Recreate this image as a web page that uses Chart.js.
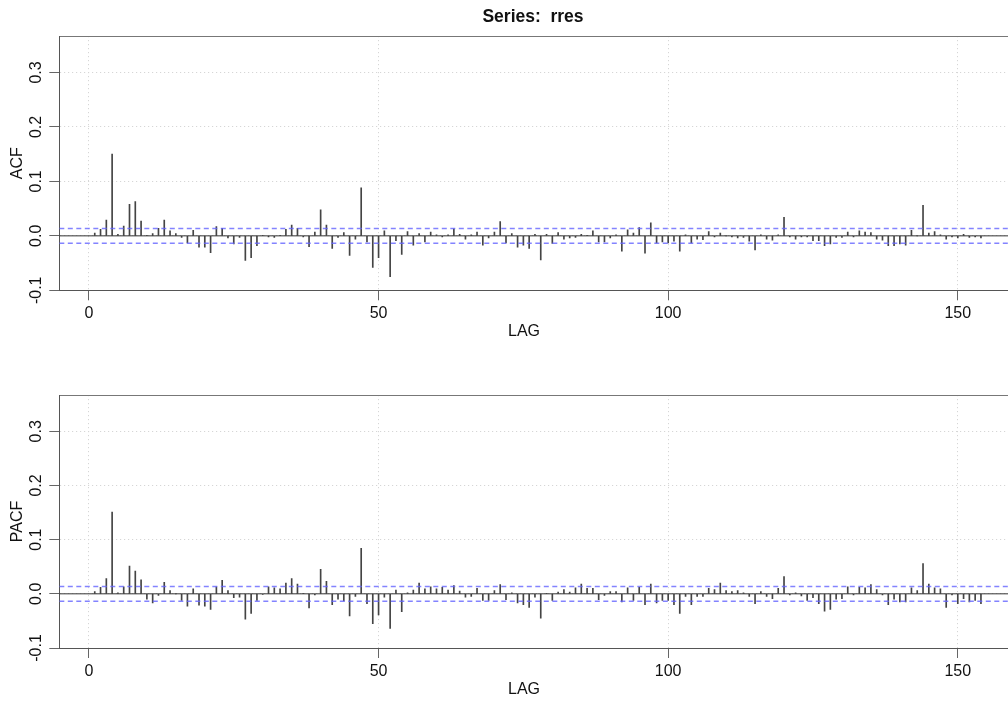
<!DOCTYPE html>
<html>
<head>
<meta charset="utf-8">
<script src="https://cdn.jsdelivr.net/npm/chart.js@4.4.1/dist/chart.umd.min.js"></script>
<style>
  html, body { margin: 0; padding: 0; background: #fff; overflow: hidden; }
  #wrap { position: relative; width: 1008px; height: 704px; overflow: hidden; }
  canvas { position: absolute; left: 0; }
  #acfChart { top: 0; }
  #pacfChart { top: 352px; }
</style>
</head>
<body>
<div id="wrap">
  <canvas id="acfChart" width="1040" height="352"></canvas>
  <canvas id="pacfChart" width="1040" height="352"></canvas>
</div>
<script>
// --- Data (lags 1..154) ---
const acfValues = [
  0.005, 0.012, 0.029, 0.150, 0.003, 0.018, 0.058, 0.063, 0.027, 0.001,
  0.004, 0.014, 0.029, 0.009, 0.004, -0.003, -0.013, 0.010, -0.021, -0.021,
  -0.031, 0.017, 0.014, -0.004, -0.015, -0.003, -0.045, -0.040, -0.018, 0.001,
  -0.002, -0.003, 0.001, 0.012, 0.020, 0.014, -0.002, -0.020, 0.007, 0.048,
  0.020, -0.023, -0.003, 0.006, -0.036, -0.006, 0.088, -0.011, -0.058, -0.040,
  0.009, -0.075, -0.009, -0.034, 0.008, -0.017, 0.004, -0.011, 0.007, 0.002,
  -0.002, 0.002, 0.013, 0.003, -0.006, 0.002, 0.007, -0.017, -0.004, 0.007,
  0.026, -0.013, 0.004, -0.021, -0.017, -0.023, 0.003, -0.044, 0.003, -0.014,
  0.006, -0.006, -0.004, -0.003, 0.003, 0.001, 0.009, -0.011, -0.011, -0.004,
  0.002, -0.028, 0.011, 0.005, 0.015, -0.032, 0.024, -0.013, -0.011, -0.013,
  -0.010, -0.028, 0.002, -0.013, -0.006, -0.007, 0.008, -0.002, 0.005, 0.000,
  -0.002, -0.004, -0.003, -0.010, -0.026, 0.002, -0.006, -0.008, 0.002, 0.034,
  -0.002, -0.006, -0.002, -0.002, -0.009, -0.009, -0.018, -0.015, -0.003, -0.003,
  0.007, -0.002, 0.009, 0.007, 0.006, -0.006, -0.008, -0.018, -0.018, -0.015,
  -0.017, 0.010, 0.000, 0.056, 0.005, 0.008, 0.002, -0.006, -0.002, -0.004,
  0.003, -0.003, -0.002, -0.004
];

const pacfValues = [
  0.004, 0.012, 0.028, 0.151, 0.002, 0.013, 0.051, 0.042, 0.026, -0.010,
  -0.017, -0.003, 0.021, 0.006, 0.000, -0.012, -0.023, 0.009, -0.021, -0.023,
  -0.029, 0.013, 0.025, 0.006, -0.007, -0.006, -0.047, -0.036, -0.012, -0.001,
  0.013, 0.011, 0.009, 0.020, 0.028, 0.018, 0.001, -0.026, -0.002, 0.045,
  0.023, -0.020, -0.010, -0.013, -0.041, -0.005, 0.084, -0.018, -0.055, -0.039,
  -0.006, -0.064, 0.007, -0.033, 0.002, 0.007, 0.020, 0.009, 0.013, 0.009,
  0.012, 0.007, 0.015, 0.005, -0.006, -0.005, 0.010, -0.012, -0.012, 0.006,
  0.017, -0.011, 0.002, -0.017, -0.020, -0.025, -0.006, -0.045, 0.001, -0.012,
  0.003, 0.008, 0.003, 0.011, 0.018, 0.010, 0.010, -0.011, -0.003, 0.004,
  0.004, -0.015, 0.011, -0.012, 0.012, -0.020, 0.018, -0.017, -0.012, -0.012,
  -0.020, -0.036, -0.005, -0.020, -0.005, -0.005, 0.010, 0.008, 0.020, 0.006,
  0.004, 0.006, 0.002, -0.005, -0.018, 0.004, -0.005, -0.009, 0.010, 0.032,
  -0.002, 0.002, -0.004, -0.012, -0.007, -0.018, -0.032, -0.029, -0.010, -0.009,
  0.013, -0.002, 0.012, 0.011, 0.017, 0.008, -0.002, -0.020, -0.010, -0.015,
  -0.015, 0.011, 0.006, 0.056, 0.018, 0.011, 0.009, -0.025, -0.002, -0.018,
  -0.009, -0.015, -0.012, -0.018
];

const lags = acfValues.map((_, i) => i + 1);

const ciBound     = 0.0135;              // 2/sqrt(n) significance bound
const xRange      = [-5.12, 160.12];     // R-style 4% extension of 1..154
const yRange      = [-0.1, 0.367];
const xTicks      = [0, 50, 100, 150];
const xTickLabels = ['0', '50', '100', '150'];
const yTicks      = [-0.1, 0, 0.1, 0.2, 0.3];
const yTickLabels = ['-0.1', '0.0', '0.1', '0.2', '0.3'];
const mainTitle   = 'Series:  rres';
const xLabel      = 'LAG';

const FONT = '"Liberation Sans", Arial, Helvetica, sans-serif';

// rotated y tick labels (R las=0 style), x label and main title
const rText = {
  id: 'rText',
  afterDraw(chart, args, opts) {
    const { ctx } = chart;
    const y = chart.scales.y;
    ctx.save();
    ctx.fillStyle = '#111';
    ctx.font = '16px ' + FONT;
    ctx.textAlign = 'center';
    ctx.textBaseline = 'middle';
    yTicks.forEach((v, i) => {
      ctx.save();
      ctx.translate(opts.labelX, y.getPixelForValue(v));
      ctx.rotate(-Math.PI / 2);
      ctx.fillText(yTickLabels[i], 0, 0);
      ctx.restore();
    });
    ctx.fillText(xLabel, 524, chart.chartArea.bottom + 41.5);
    if (opts.title) {
      ctx.font = 'bold 17.5px ' + FONT;
      ctx.fillText(opts.title, 533, opts.titleY);
    }
    ctx.restore();
  }
};

function hline(yVal, color, width, dash, order) {
  return {
    type: 'line',
    data: [{ x: xRange[0], y: yVal }, { x: xRange[1], y: yVal }],
    borderColor: color, borderWidth: width, borderDash: dash,
    pointRadius: 0, order,
  };
}

function makePanel(id, values, yLabel, cfg) {
  return new Chart(document.getElementById(id), {
    type: 'bar',
    data: {
      datasets: [
        {
          data: lags.map((l, i) => ({ x: l, y: values[i] })),
          backgroundColor: '#444',
          barThickness: 1,
          order: 3,
        },
        hline(0, '#333', 1, [], 2),
        hline(ciBound, 'rgba(100,100,255,0.8)', 1.5, [5, 3.5], 1),
        hline(-ciBound, 'rgba(100,100,255,0.8)', 1.5, [5, 3.5], 1),
      ],
    },
    options: {
      responsive: false, animation: false, devicePixelRatio: 1,
      layout: { padding: { top: cfg.top, right: 23.6, left: 0, bottom: 0 } },
      plugins: {
        legend: { display: false },
        tooltip: { enabled: false },
        rText: { labelX: 36.3, title: cfg.title, titleY: 17 },
      },
      scales: {
        x: {
          type: 'linear', min: xRange[0], max: xRange[1], offset: false,
          afterBuildTicks: s => { s.ticks = xTicks.map(v => ({ value: v })); },
          afterFit: s => { s.height = cfg.xAxisH; },
          grid: { offset: false, color: '#d6d6d6', lineWidth: 1, tickLength: 10,
                  tickColor: '#666', tickWidth: 1, tickBorderDash: [100, 0] },
          border: { display: true, color: '#555', width: 1, dash: [1.2, 2.8] },
          ticks: { color: '#111', font: { family: FONT, size: 16 }, padding: 4,
                   maxRotation: 0, autoSkip: false,
                   callback: (v, i) => xTickLabels[i] },
          title: { display: false },
        },
        xTop: {
          type: 'linear', position: 'top', min: xRange[0], max: xRange[1],
          afterFit: s => { s.height = 0; },
          ticks: { display: false }, grid: { display: false },
          border: { display: true, color: '#777', width: 1 },
        },
        y: {
          min: yRange[0], max: yRange[1],
          afterBuildTicks: s => { s.ticks = yTicks.map(v => ({ value: v })); },
          afterFit: s => { s.width = 59.3; },
          grid: { color: '#d6d6d6', lineWidth: 1, tickLength: 10,
                  tickColor: '#666', tickWidth: 1, tickBorderDash: [100, 0] },
          border: { display: true, color: '#555', width: 1, dash: [1.2, 2.8] },
          ticks: { display: false },
          title: { display: true, text: yLabel, color: '#111',
                   font: { family: FONT, size: 16 }, padding: { top: 8, bottom: 0 } },
        },
      },
    },
    plugins: [rText],
  });
}

makePanel('acfChart', acfValues, 'ACF', { top: 36, xAxisH: 61.7, title: mainTitle });
makePanel('pacfChart', pacfValues, 'PACF', { top: 43, xAxisH: 56, title: null });
</script>
</body>
</html>
